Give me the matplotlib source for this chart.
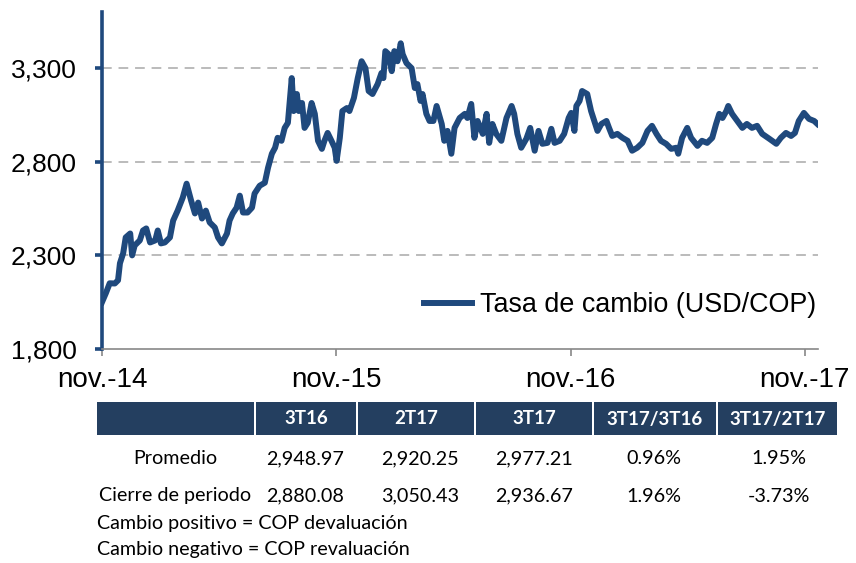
import matplotlib
matplotlib.use('Agg')
import matplotlib.pyplot as plt
import pandas as pd
from matplotlib.patches import Rectangle

# datos (tasa de cambio USD/COP)
fechas = [
    '2014-11-01', '2014-11-07', '2014-11-13', '2014-11-21', '2014-11-26', '2014-11-29',
    '2014-12-04', '2014-12-08', '2014-12-15', '2014-12-18', '2014-12-22', '2014-12-30',
    '2015-01-04', '2015-01-09', '2015-01-15', '2015-01-23', '2015-01-27', '2015-02-01',
    '2015-02-07', '2015-02-15', '2015-02-20', '2015-02-27', '2015-03-07', '2015-03-13',
    '2015-03-20', '2015-03-26', '2015-03-31', '2015-04-06', '2015-04-12', '2015-04-18',
    '2015-04-26', '2015-05-01', '2015-05-07', '2015-05-15', '2015-05-19', '2015-05-24',
    '2015-05-30', '2015-06-04', '2015-06-09', '2015-06-16', '2015-06-23', '2015-06-27',
    '2015-07-05', '2015-07-13', '2015-07-18', '2015-07-24', '2015-07-29', '2015-08-02',
    '2015-08-08', '2015-08-13', '2015-08-18', '2015-08-21', '2015-08-24', '2015-08-27',
    '2015-09-01', '2015-09-04', '2015-09-09', '2015-09-13', '2015-09-18', '2015-09-24',
    '2015-09-29', '2015-10-04', '2015-10-10', '2015-10-14', '2015-10-19', '2015-10-25',
    '2015-10-30', '2015-11-02', '2015-11-07', '2015-11-11', '2015-11-18', '2015-11-22',
    '2015-11-29', '2015-12-05', '2015-12-11', '2015-12-17', '2015-12-22', '2015-12-28',
    '2016-01-05', '2016-01-11', '2016-01-14', '2016-01-17', '2016-01-22', '2016-01-27',
    '2016-01-31', '2016-02-05', '2016-02-10', '2016-02-13', '2016-02-19', '2016-02-27',
    '2016-03-03', '2016-03-07', '2016-03-12', '2016-03-15', '2016-03-21', '2016-03-26',
    '2016-04-01', '2016-04-06', '2016-04-14', '2016-04-18', '2016-04-23', '2016-04-29',
    '2016-05-04', '2016-05-12', '2016-05-20', '2016-05-24', '2016-05-30', '2016-06-04',
    '2016-06-09', '2016-06-17', '2016-06-23', '2016-06-27', '2016-07-02', '2016-07-08',
    '2016-07-16', '2016-07-24', '2016-08-01', '2016-08-05', '2016-08-10', '2016-08-16',
    '2016-08-24', '2016-08-30', '2016-09-06', '2016-09-12', '2016-09-18', '2016-09-26',
    '2016-10-02', '2016-10-07', '2016-10-15', '2016-10-22', '2016-10-29', '2016-11-02',
    '2016-11-07', '2016-11-10', '2016-11-15', '2016-11-19', '2016-11-27', '2016-12-03',
    '2016-12-08', '2016-12-13', '2016-12-19', '2016-12-27', '2016-12-31', '2017-01-05',
    '2017-01-13', '2017-01-21', '2017-01-29', '2017-02-05', '2017-02-13', '2017-02-21',
    '2017-03-01', '2017-03-08', '2017-03-15', '2017-03-22', '2017-03-30', '2017-04-07',
    '2017-04-15', '2017-04-18', '2017-04-24', '2017-05-02', '2017-05-08', '2017-05-18',
    '2017-05-25', '2017-06-02', '2017-06-10', '2017-06-16', '2017-06-21', '2017-06-26',
    '2017-07-02', '2017-07-05', '2017-07-11', '2017-07-19', '2017-07-27', '2017-08-03',
    '2017-08-11', '2017-08-19', '2017-08-27', '2017-09-07', '2017-09-18', '2017-09-25',
    '2017-10-03', '2017-10-11', '2017-10-17', '2017-10-23', '2017-10-31', '2017-11-08',
    '2017-11-16', '2017-11-21',
]
tasa = [
    2050, 2098, 2151, 2150, 2167, 2258,
    2311, 2396, 2417, 2300, 2353, 2380,
    2433, 2444, 2369, 2380, 2433, 2364,
    2369, 2396, 2486, 2539, 2609, 2683,
    2593, 2524, 2582, 2497, 2539, 2476,
    2449, 2396, 2364, 2417, 2486, 2524,
    2555, 2619, 2529, 2529, 2555, 2630,
    2672, 2688, 2768, 2843, 2875, 2928,
    2912, 2981, 3008, 3125, 3247, 3071,
    3162, 3071, 3114, 2981, 3008, 3114,
    3056, 2912, 2869, 2912, 2954, 2912,
    2875, 2805, 2928, 3071, 3087, 3071,
    3141, 3247, 3337, 3300, 3178, 3162,
    3215, 3274, 3247, 3391, 3375, 3284,
    3391, 3337, 3433, 3375, 3327, 3300,
    3194, 3215, 3125, 3162, 3056, 3018,
    3018, 3098, 3002, 2912, 2965, 2843,
    2981, 3034, 3056, 3034, 3109, 2928,
    3018, 2949, 3056, 2901, 3002, 2949,
    2912, 3034, 3098, 3056, 2949, 2875,
    2923, 2981, 2859, 2965, 2896, 2901,
    2976, 2901, 2912, 2949, 3034, 3061,
    2965, 3098, 3125, 3178, 3162, 3071,
    3018, 2965, 3002, 3018, 2981, 2938,
    2949, 2928, 2912, 2859, 2875, 2901,
    2965, 2992, 2949, 2912, 2896, 2869,
    2875, 2843, 2928, 2981, 2928, 2885,
    2912, 2901, 2928, 3002, 3056, 3034,
    3071, 3098, 3056, 3018, 2981, 3002,
    2981, 2992, 2949, 2923, 2896, 2928,
    2954, 2938, 2954, 3018, 3061, 3029,
    3018, 3002,
]
serie = 'Tasa de cambio (USD/COP)'

# tabla
encabezados = ['', '3T16', '2T17', '3T17', '3T17/3T16', '3T17/2T17']
fila_promedio = ['Promedio', '2,948.97', '2,920.25', '2,977.21', '0.96%', '1.95%']
fila_cierre = ['Cierre de periodo', '2,880.08', '3,050.43', '2,936.67', '1.96%', '-3.73%']
notas = ['Cambio positivo = COP devaluación', 'Cambio negativo = COP revaluación']

W, H = 856, 563
azul = '#1F497D'
navy = '#243F60'

fig = plt.figure(figsize=(W / 100, H / 100), dpi=100)
ax = fig.add_axes([102 / W, 1 - 349 / H, (818 - 102) / W, (349 - 12) / H])

x = pd.to_datetime(fechas)
ax.plot(x, tasa, color=azul, linewidth=4.3, solid_joinstyle='round', label=serie)

ax.set_ylim(1800, 3600)
ax.set_yticks([1800, 2300, 2800, 3300])
ax.set_yticklabels(['1,800', '2,300', '2,800', '3,300'])
ax.set_xlim(pd.Timestamp('2014-11-01'), pd.Timestamp('2017-11-22'))
ticks = pd.to_datetime(['2014-11-01', '2015-11-01', '2016-11-01', '2017-11-01'])
ax.set_xticks(ticks)
ax.set_xticklabels(['nov.-14', 'nov.-15', 'nov.-16', 'nov.-17'])

for v in [2300, 2800, 3300]:
    ax.axhline(v, color='#BBBBBB', linewidth=1.4, linestyle=(0, (5, 3.5)), zorder=0)

for s in ['top', 'right']:
    ax.spines[s].set_visible(False)
ax.spines['left'].set_color(azul)
ax.spines['left'].set_linewidth(2.6)
ax.spines['bottom'].set_color('#888888')
ax.spines['bottom'].set_linewidth(1.2)

ax.tick_params(axis='y', colors=azul, length=5, width=2.6, pad=13,
               labelcolor='black', labelsize=19)
ax.tick_params(axis='x', colors='#888888', length=5, width=1.2, pad=8,
               labelcolor='black', labelsize=20)
for lab in ax.get_xticklabels() + ax.get_yticklabels():
    lab.set_family('Liberation Sans')

leg = ax.legend(loc='center right', bbox_to_anchor=(0.997, 0.13), frameon=False,
                prop={'family': 'Liberation Sans', 'size': 19.4},
                handlelength=1.75, handletextpad=0.3, borderaxespad=0, borderpad=0)

# tabla dibujada en coordenadas de la figura
bordes = [97, 256, 358, 476, 594, 718, 839]
y0, y1 = 402, 435
for i in range(len(encabezados)):
    x0 = bordes[i]
    x1 = bordes[i + 1] - 2
    fig.patches.append(Rectangle((x0 / W, 1 - y1 / H), (x1 - x0) / W, (y1 - y0) / H,
                                 transform=fig.transFigure, facecolor=navy,
                                 edgecolor='none'))
    cx = (x0 + x1) / 2 / W
    if encabezados[i]:
        fig.text(cx, 1 - 419 / H, encabezados[i], color='white', fontweight='bold',
                 fontsize=13.5, family='Lato', ha='center', va='center')

centros = [175, 305, 420, 534, 654, 779]
for fila, yy in [(fila_promedio, 459), (fila_cierre, 496)]:
    for c, t in zip(centros, fila):
        fig.text(c / W, 1 - yy / H, t, fontsize=14.2, family='Lato',
                 ha='center', va='center', color='black')

for t, yy in zip(notas, [523, 550]):
    fig.text(97 / W, 1 - yy / H, t, fontsize=14.2, family='Lato',
             ha='left', va='center', color='black')

fig.savefig('out.png', dpi=100)
